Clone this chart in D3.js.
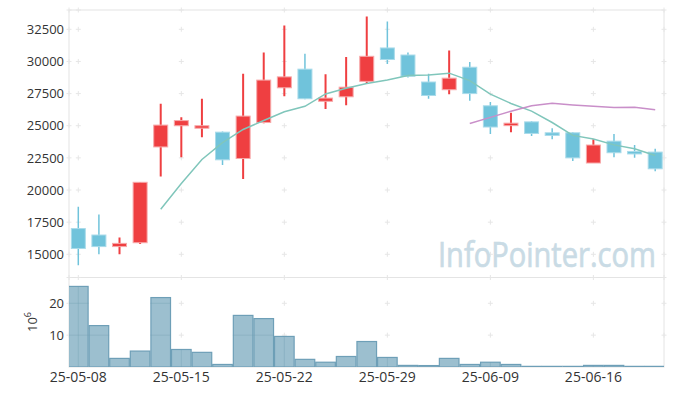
<!DOCTYPE html>
<html>
  <head>
    <meta charset="UTF-8">
    <script src="https://d3js.org/d3.v7.min.js"></script>
    <style>
      body{
        margin: 0;
        background: #fff;
      }
      text{
        font-family: "Open Sans", sans-serif;
        fill: #333;
      }
    </style>
    <title>Candles</title>
  </head>
  <body>
    <svg id="chart" width="673" height="396"></svg>
    <script>
      const dates = ["25-05-08","25-05-09","25-05-12","25-05-13","25-05-14","25-05-15","25-05-16","25-05-19",
                     "25-05-20","25-05-21","25-05-22","25-05-23","25-05-26","25-05-27","25-05-28","25-05-29",
                     "25-05-30","25-06-02","25-06-04","25-06-05","25-06-09","25-06-10","25-06-11","25-06-12",
                     "25-06-13","25-06-16","25-06-17","25-06-18","25-06-19"];
      const opens  = [17000,16500,15600,15900,23350,25000,24850,24500,22450,25250,27950,29400,26900,27250,28450,
                      31050,30500,28400,27800,29550,26550,25050,25300,24450,24450,22100,23800,23000,22950];
      const highs  = [18700,18100,16300,20600,26700,25650,27100,24550,29050,30700,32800,30600,29000,30350,33500,
                      33100,30700,29050,30850,29950,26850,26000,25350,24800,24500,23950,24350,23500,23200];
      const lows   = [14150,15000,15000,15800,21050,22550,24100,21950,20850,25200,27300,27050,26300,26600,28250,
                      29800,28750,27100,27450,26950,24350,24500,24200,23950,22250,22100,22550,22500,21450];
      const closes = [15450,15600,15850,20600,25050,25400,25000,22350,25750,28550,28800,27100,27150,28000,30400,
                      30150,28850,27350,28700,27500,24900,25200,24400,24250,22500,23500,22900,22900,21650];
      // volume in millions
      const volumes = [25.3,13.0,2.7,5.0,21.8,5.5,4.6,0.8,16.2,15.2,9.6,2.4,1.5,3.3,8.0,
                       3.0,0.5,0.45,2.7,0.8,1.5,0.8,0.2,0.2,0.2,0.5,0.5,0.2,0.2];
      const ma5  = [null,null,null,null,18510,20500,22380,23680,24710,25410,26090,26510,27470,27920,28290,
                    28560,28910,28950,29090,28510,27460,26730,26140,25250,24250,23970,23510,23210,22690];
      const ma20 = [null,null,null,null,null,null,null,null,null,null,null,null,null,null,null,
                    null,null,null,null,25180,25650,26130,26560,26740,26620,26520,26420,26440,26240];

      const priceTicks = [15000,17500,20000,22500,25000,27500,30000,32500];
      const volTicks = [10, 20];
      const dateTicks = ["25-05-08","25-05-15","25-05-22","25-05-29","25-06-09","25-06-16"];

      const svg = d3.select("svg#chart");
      const pLeft = 69, pRight = 664, pTop = 10, pMid = 277.5, pBottom = 367;

      const data = dates.map((d, i) => ({date: d, o: opens[i], h: highs[i], l: lows[i], c: closes[i], v: volumes[i]}));

      const xScale = d3.scaleBand().domain(dates).range([68, 665.5]).padding(0);
      const bw = xScale.bandwidth();
      const cx = d => xScale(d) + bw / 2;
      const yScale = d3.scaleLinear().domain([15000, 32500]).range([254.3, 29.3]);
      const vScale = d3.scaleLinear().domain([0, 20]).range([pBottom, 303.3]);

      svg.append("clipPath").attr("id", "clipTop")
         .append("rect").attr("x", pLeft).attr("y", pTop).attr("width", pRight - pLeft).attr("height", pMid - pTop);
      svg.append("clipPath").attr("id", "clipBot")
         .append("rect").attr("x", pLeft).attr("y", pMid).attr("width", pRight - pLeft).attr("height", pBottom - pMid);

      // frame
      svg.append("rect")
         .attr("x", pLeft).attr("y", pTop).attr("width", pRight - pLeft).attr("height", pBottom - pTop)
         .attr("fill", "none").attr("stroke", "#e4e4e4");
      svg.append("line")
         .attr("x1", pLeft).attr("x2", pRight).attr("y1", pMid).attr("y2", pMid)
         .attr("stroke", "#e4e4e4");

      // little + marks where grid lines cross
      const gx = [pLeft].concat(dateTicks.map(cx)).concat([pRight]);
      const marks = [];
      gx.forEach(x => {
        priceTicks.forEach(t => marks.push([x, yScale(t)]));
        volTicks.forEach(t => marks.push([x, vScale(t)]));
        marks.push([x, pMid]);
        marks.push([x, pTop]);
      });
      const gridG = svg.append("g").attr("stroke", "#e6e6e6").attr("stroke-width", 1);
      gridG.selectAll("path").data(marks).enter()
           .append("path")
           .attr("d", d => "M" + (d[0] - 2.5) + "," + d[1] + "H" + (d[0] + 2.5) + "M" + d[0] + "," + (d[1] - 2.5) + "V" + (d[1] + 2.5));

      // volume bars
      const volG = svg.append("g").attr("clip-path", "url(#clipBot)");
      volG.selectAll("rect").data(data).enter()
          .append("rect")
          .attr("x", d => xScale(d.date) + 0.5)
          .attr("y", d => vScale(d.v))
          .attr("width", bw - 1)
          .attr("height", d => pBottom - vScale(d.v))
          .attr("fill", "#9cbfcf")
          .attr("stroke", "#6e9fb7")
          .attr("stroke-width", 1.2);

      // grid lines that show through the bars
      svg.append("clipPath").attr("id", "clipBars")
         .selectAll("rect").data(data).enter()
         .append("rect")
         .attr("x", d => xScale(d.date))
         .attr("y", d => vScale(d.v))
         .attr("width", bw)
         .attr("height", d => pBottom - vScale(d.v));
      const inner = svg.append("g").attr("clip-path", "url(#clipBars)")
                       .attr("stroke", "#6f9db3").attr("stroke-opacity", 0.35);
      inner.selectAll("line.h").data(volTicks).enter()
           .append("line").attr("class", "h")
           .attr("x1", pLeft).attr("x2", pRight)
           .attr("y1", d => vScale(d)).attr("y2", d => vScale(d));
      inner.selectAll("line.v").data(dateTicks).enter()
           .append("line").attr("class", "v")
           .attr("x1", d => cx(d)).attr("x2", d => cx(d))
           .attr("y1", pMid).attr("y2", pBottom);

      // watermark, squeezed horizontally to the width it has in the original
      const mark = svg.append("text")
         .attr("x", 0).attr("y", 0)
         .style("font-size", "34px")
         .style("fill", "#c9dbe5")
         .style("stroke", "#c9dbe5")
         .style("stroke-width", 0.7)
         .text("InfoPointer.com");
      const natural = mark.node().getComputedTextLength();
      mark.attr("transform", "translate(438,267) scale(" + (218 / natural) + ",1)");

      // candles
      const up = "#ef3f41", down = "#70c3db";
      const candleG = svg.append("g").attr("clip-path", "url(#clipTop)");
      candleG.selectAll("line.wick").data(data).enter()
             .append("line").attr("class", "wick")
             .attr("x1", d => cx(d.date)).attr("x2", d => cx(d.date))
             .attr("y1", d => yScale(d.h)).attr("y2", d => yScale(d.l))
             .attr("stroke", d => d.c >= d.o ? up : down)
             .attr("stroke-width", d => d.c >= d.o ? 2 : 1.5);
      const bodyW = 14;
      candleG.selectAll("rect.body").data(data).enter()
             .append("rect").attr("class", "body")
             .attr("x", d => cx(d.date) - bodyW / 2)
             .attr("y", d => yScale(Math.max(d.o, d.c)))
             .attr("width", bodyW)
             .attr("height", d => Math.max(2.5, Math.abs(yScale(d.o) - yScale(d.c))))
             .attr("fill", d => d.c >= d.o ? up : down)
             .attr("stroke", d => d.c >= d.o ? "#f7a9aa" : "#a9dbea")
             .attr("stroke-width", 1);

      // moving averages
      const line = d3.line()
                     .defined(d => d[1] !== null)
                     .x(d => cx(d[0]))
                     .y(d => yScale(d[1]));
      candleG.append("path")
             .datum(dates.map((d, i) => [d, ma5[i]]))
             .attr("d", line)
             .attr("fill", "none").attr("stroke", "#80c6bb").attr("stroke-width", 1.5);
      candleG.append("path")
             .datum(dates.map((d, i) => [d, ma20[i]]))
             .attr("d", line)
             .attr("fill", "none").attr("stroke", "#c98fc9").attr("stroke-width", 1.5);

      // axes
      const yAxis = d3.axisLeft(yScale).tickValues(priceTicks).tickFormat(d3.format("d")).tickSize(0).tickPadding(5);
      svg.append("g").attr("class", "y axis")
         .attr("transform", "translate(" + pLeft + ",0)")
         .call(yAxis)
         .call(g => g.select(".domain").remove())
         .selectAll("text").style("font-size", "13px").style("fill", "#333");

      const vAxis = d3.axisLeft(vScale).tickValues(volTicks).tickSize(0).tickPadding(5);
      svg.append("g").attr("class", "v axis")
         .attr("transform", "translate(" + pLeft + ",0)")
         .call(vAxis)
         .call(g => g.select(".domain").remove())
         .selectAll("text").style("font-size", "13px").style("fill", "#333");

      const xAxis = d3.axisBottom(xScale).tickValues(dateTicks).tickSize(0).tickPadding(5);
      svg.append("g").attr("class", "x axis")
         .attr("transform", "translate(0," + pBottom + ")")
         .call(xAxis)
         .call(g => g.select(".domain").remove())
         .selectAll("text").style("font-size", "14px").style("fill", "#333");

      // 10^6 label
      const unit = svg.append("text")
                      .attr("transform", "translate(37,322) rotate(-90)")
                      .attr("text-anchor", "middle")
                      .style("font-size", "13px");
      unit.append("tspan").text("10");
      unit.append("tspan").attr("dy", -6).style("font-size", "9px").text("6");
    </script>
  </body>
</html>
